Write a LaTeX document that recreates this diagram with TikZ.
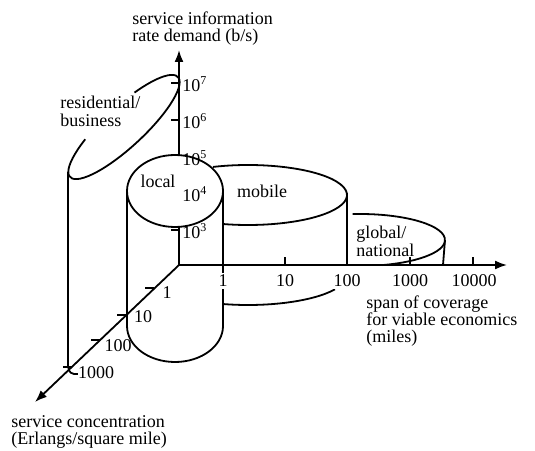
\documentclass[tikz,border=0pt]{standalone}
\usepackage{fontspec}
\setmainfont{Liberation Serif}
\usetikzlibrary{arrows.meta, positioning}

\tikzset{
  axis/.style={line width=0.9pt, -{Latex[length=6pt,width=4.5pt]}},
  cyl/.style={line width=0.9pt},
  axtick/.style={line width=0.8pt},
  lbl/.style={font=\fontsize{9}{8.6}\selectfont, inner sep=0pt, align=left}
}

\begin{document}
\begin{tikzpicture}[x=0.5pt, y=0.5pt]
	\useasboundingbox (0,0) rectangle (535,450);
	\coordinate (O) at (179,185);
	\coordinate (Ytip) at (179,400);
	\coordinate (Xtip) at (507,185);
	\coordinate (Ztip) at (35,48);
	
	% residential/business
	\begin{scope}[shift={(124,323)}, rotate=42.8]
		\draw[cyl] (120:73.6 and 20) arc[start angle=120, end angle=425, x radius=73.6, y radius=20];
	\end{scope}
	\coordinate (Rtop) at (68.3,278);
	\coordinate (Rbot) at (68.3,83);
	\draw[cyl] (Rtop) -- (Rbot);
	\begin{scope}[shift={(124,128)}, rotate=42.8]
		\draw[cyl] (165.9:73.6 and 20) arc[start angle=165.9, end angle=200, x radius=73.6, y radius=20];
	\end{scope}
	
	% axes and ticks
	\draw[axis] (O) -- (Ytip);
	\draw[axis] (O) -- (Xtip);
	\draw[axis] (O) -- (Ztip);
	\foreach \yy in {220,257,293,330,367}
		\draw[axtick] (171,\yy) -- (179,\yy);
	\foreach \xx in {223,285,347,410,473}
		\draw[axtick] (\xx,185) -- (\xx,193);
	\foreach \xx/\yy in {154/162,126/135,100/110,72/83}
		\draw[axtick] (\xx-9,\yy) -- (\xx,\yy);
	
	% mobile
	\coordinate (Mtop) at (248,255);
	\coordinate (Mbot) at (248,175);
	\draw[cyl] ([shift={(110.7:99 and 30)}]Mtop) arc[start angle=110.7, end angle=-104.6, x radius=99, y radius=30];
	\draw[cyl] (347,255) -- (347,185);
	\draw[cyl] ([shift={(-104.6:99 and 30)}]Mbot) arc[start angle=-104.6, end angle=-28.5, x radius=99, y radius=30];
	
	% global/national
	\coordinate (G) at (360,210);
	\draw[cyl] ([shift={(95:85 and 26)}]G) arc[start angle=95, end angle=-75, x radius=85, y radius=26];
	\draw[cyl] (445,210) -- (443,185);
	
	% local
	\coordinate (L) at (175,259);
	\draw[cyl, fill=white] (L) ellipse[x radius=48, y radius=36];
	\draw[cyl] (127,259) -- (127,124) arc[start angle=180, end angle=360, x radius=48, y radius=36] -- (223,259);
	
	% tick labels
	\foreach \yy/\e in {220/3,257/4,293/5,330/6,367/7}
		\node[lbl, anchor=base west] (y\e) at (182,\yy-9) {10\textsuperscript{\e}};
	\foreach \xx/\t in {223/1,285/10,347/100,410/1000,474/10000}
		\node[lbl, anchor=base, fill=white, inner sep=1pt] (x\t) at (\xx,163) {\t};
	\node[lbl, anchor=base] (z1) at (167,152) {1};
	\node[lbl, anchor=base] (z10) at (143,127) {10};
	\node[lbl, anchor=base] (z100) at (118,98) {100};
	\node[lbl, anchor=base] (z1000) at (96,72) {1000};
	
	% titles
	\node[lbl, anchor=north west] (ytitle) at (132,439) {service information\\rate demand (b/s)};
	\node[lbl, anchor=north west] (xtitle) at (366,155) {span of coverage\\for viable economics\\(miles)};
	\node[lbl, anchor=north west] (ztitle) at (11,35) {service concentration\\(Erlangs/square mile)};
	\node[lbl, anchor=north west] (res) at (60,354) {residential/\\business};
	\node[lbl, anchor=base] (loc) at (158,262) {local};
	\node[lbl, anchor=base] (mob) at (262,252) {mobile};
	\node[lbl, anchor=north west] (glob) at (356,224) {global/\\national};
\end{tikzpicture}
\end{document}
